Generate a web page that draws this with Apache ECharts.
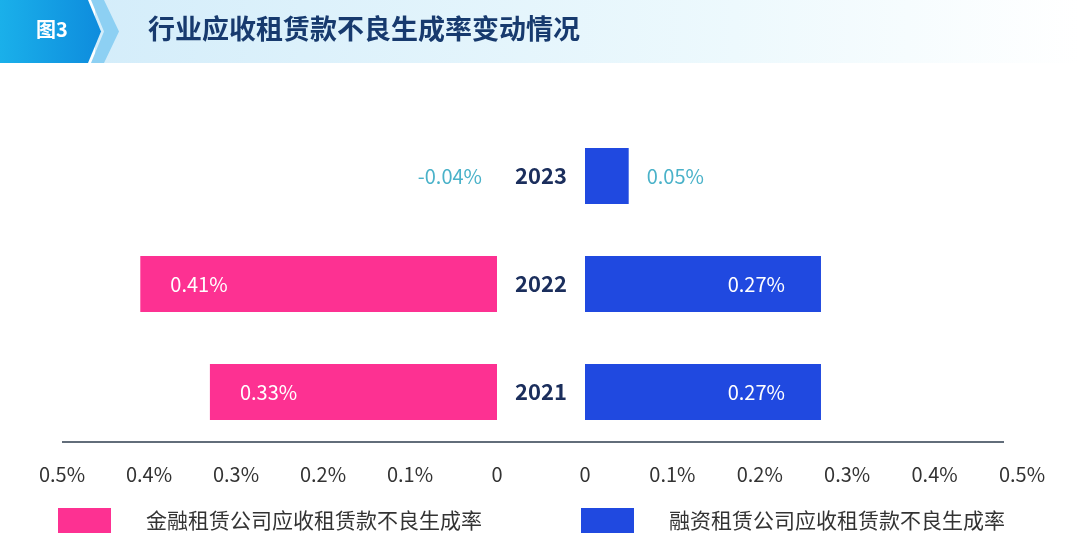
<!DOCTYPE html>
<html>
<head>
<meta charset="utf-8">
<script src="https://cdn.jsdelivr.net/npm/echarts@6/dist/echarts.min.js"></script>
<style>
html,body{margin:0;padding:0;background:#fff;}
#chart{width:1080px;height:550px;}
</style>
</head>
<body>
<div id="chart"></div>
<script>
const categories = ['2021', '2022', '2023'];
const financialLeasing = [0.33, 0.41, -0.04];   // 金融租赁公司
const financingLeasing = [0.27, 0.27, 0.05];    // 融资租赁公司
const seriesNames = ['金融租赁公司应收租赁款不良生成率', '融资租赁公司应收租赁款不良生成率'];
const tickLabels = ['0', '0.1%', '0.2%', '0.3%', '0.4%', '0.5%'];
const titleText = '行业应收租赁款不良生成率变动情况';
const figLabel = '图3';

const FONT = '"Noto Sans CJK SC", "Noto Sans", sans-serif';
const PINK = '#FD3192';
const BLUE = '#2049E0';
const TEAL = '#4AB2C9';

function tickFmt(v) {
  const i = Math.round(v * 10);
  return tickLabels[i] !== undefined ? tickLabels[i] : '';
}
function pct(v) { return v.toFixed(2) + '%'; }

const leftData = financialLeasing.map(function (v) {
  if (v < 0) {
    return {
      value: v,
      itemStyle: { color: 'rgba(0,0,0,0)' },
      label: { position: 'left', distance: 15, color: TEAL }
    };
  }
  return v;
});
const rightData = financingLeasing.map(function (v) {
  if (v < 0.1) {
    return { value: v, label: { position: 'right', distance: 18, color: TEAL } };
  }
  return v;
});

const chart = echarts.init(document.getElementById('chart'));
chart.setOption({
  backgroundColor: '#fff',
  animation: false,
  textStyle: { fontFamily: FONT },
  graphic: [
    {
      type: 'rect', left: 95, top: 0, silent: true,
      shape: { width: 985, height: 63 },
      style: {
        fill: new echarts.graphic.LinearGradient(0, 0, 1, 0, [
          { offset: 0, color: '#D4EDFA' },
          { offset: 0.65, color: '#EDF9FD' },
          { offset: 1, color: '#FFFFFF' }
        ])
      }
    },
    {
      type: 'polygon', silent: true,
      shape: { points: [[91, 0], [104, 0], [119, 31.5], [104, 63], [91, 63], [104, 31.5]] },
      style: { fill: '#8DD0F3' }
    },
    {
      type: 'polygon', silent: true,
      shape: { points: [[0, 0], [88, 0], [101, 31.5], [88, 63], [0, 63]] },
      style: {
        fill: new echarts.graphic.LinearGradient(0, 0, 1, 0, [
          { offset: 0, color: '#1AB0EA' },
          { offset: 1, color: '#0E8CDD' }
        ])
      }
    },
    {
      type: 'text', left: 36, top: 19, silent: true,
      style: { text: figLabel, fill: '#fff', font: 'bold 20px ' + FONT }
    },
    {
      type: 'text', left: 148, top: 15, silent: true,
      style: { text: titleText, fill: '#173A6E', font: 'bold 27px ' + FONT }
    },
    {
      type: 'line', silent: true,
      shape: { x1: 62, y1: 442, x2: 1004, y2: 442 },
      style: { stroke: '#2E3C4E', lineWidth: 1.5 }
    }
  ],
  legend: [
    {
      data: [seriesNames[0]], left: 53, top: 503,
      itemWidth: 53, itemHeight: 25, icon: 'rect',
      textStyle: { fontSize: 21, color: '#333', padding: [0, 0, 0, 30], fontFamily: FONT }
    },
    {
      data: [seriesNames[1]], left: 576, top: 503,
      itemWidth: 53, itemHeight: 25, icon: 'rect',
      textStyle: { fontSize: 21, color: '#333', padding: [0, 0, 0, 30], fontFamily: FONT }
    }
  ],
  grid: [
    { left: 62, right: 1080 - 497, top: 122, bottom: 550 - 446, containLabel: false },
    { left: 585, right: 1080 - 1022, top: 122, bottom: 550 - 446, containLabel: false }
  ],
  xAxis: [
    {
      gridIndex: 0, type: 'value', inverse: true, min: 0, max: 0.5, interval: 0.1,
      axisLine: { show: false }, axisTick: { show: false }, splitLine: { show: false },
      axisLabel: { formatter: tickFmt, fontSize: 20, color: '#333', margin: 18, fontFamily: FONT }
    },
    {
      gridIndex: 1, type: 'value', min: 0, max: 0.5, interval: 0.1,
      axisLine: { show: false }, axisTick: { show: false }, splitLine: { show: false },
      axisLabel: { formatter: tickFmt, fontSize: 20, color: '#333', margin: 18, fontFamily: FONT }
    }
  ],
  yAxis: [
    {
      gridIndex: 0, type: 'category', data: categories,
      axisLine: { show: false }, axisTick: { show: false }, axisLabel: { show: false }
    },
    {
      gridIndex: 1, type: 'category', data: categories,
      axisLine: { show: false }, axisTick: { show: false },
      axisLabel: {
        fontSize: 22, fontWeight: 'bold', color: '#1B2E5C', align: 'center',
        margin: 44, fontFamily: FONT, padding: [0, 0, 4, 0]
      }
    }
  ],
  series: [
    {
      name: seriesNames[0], type: 'bar', xAxisIndex: 0, yAxisIndex: 0,
      data: leftData, barWidth: 56, clip: false,
      itemStyle: { color: PINK },
      label: {
        show: true, position: 'insideLeft', distance: 30, color: '#fff',
        fontSize: 20, fontFamily: FONT,
        formatter: function (p) { return pct(p.value); }
      }
    },
    {
      name: seriesNames[1], type: 'bar', xAxisIndex: 1, yAxisIndex: 1,
      data: rightData, barWidth: 56,
      itemStyle: { color: BLUE },
      label: {
        show: true, position: 'insideRight', distance: 36, color: '#fff',
        fontSize: 20, fontFamily: FONT,
        formatter: function (p) { return pct(p.value); }
      }
    }
  ]
});
</script>
</body>
</html>
